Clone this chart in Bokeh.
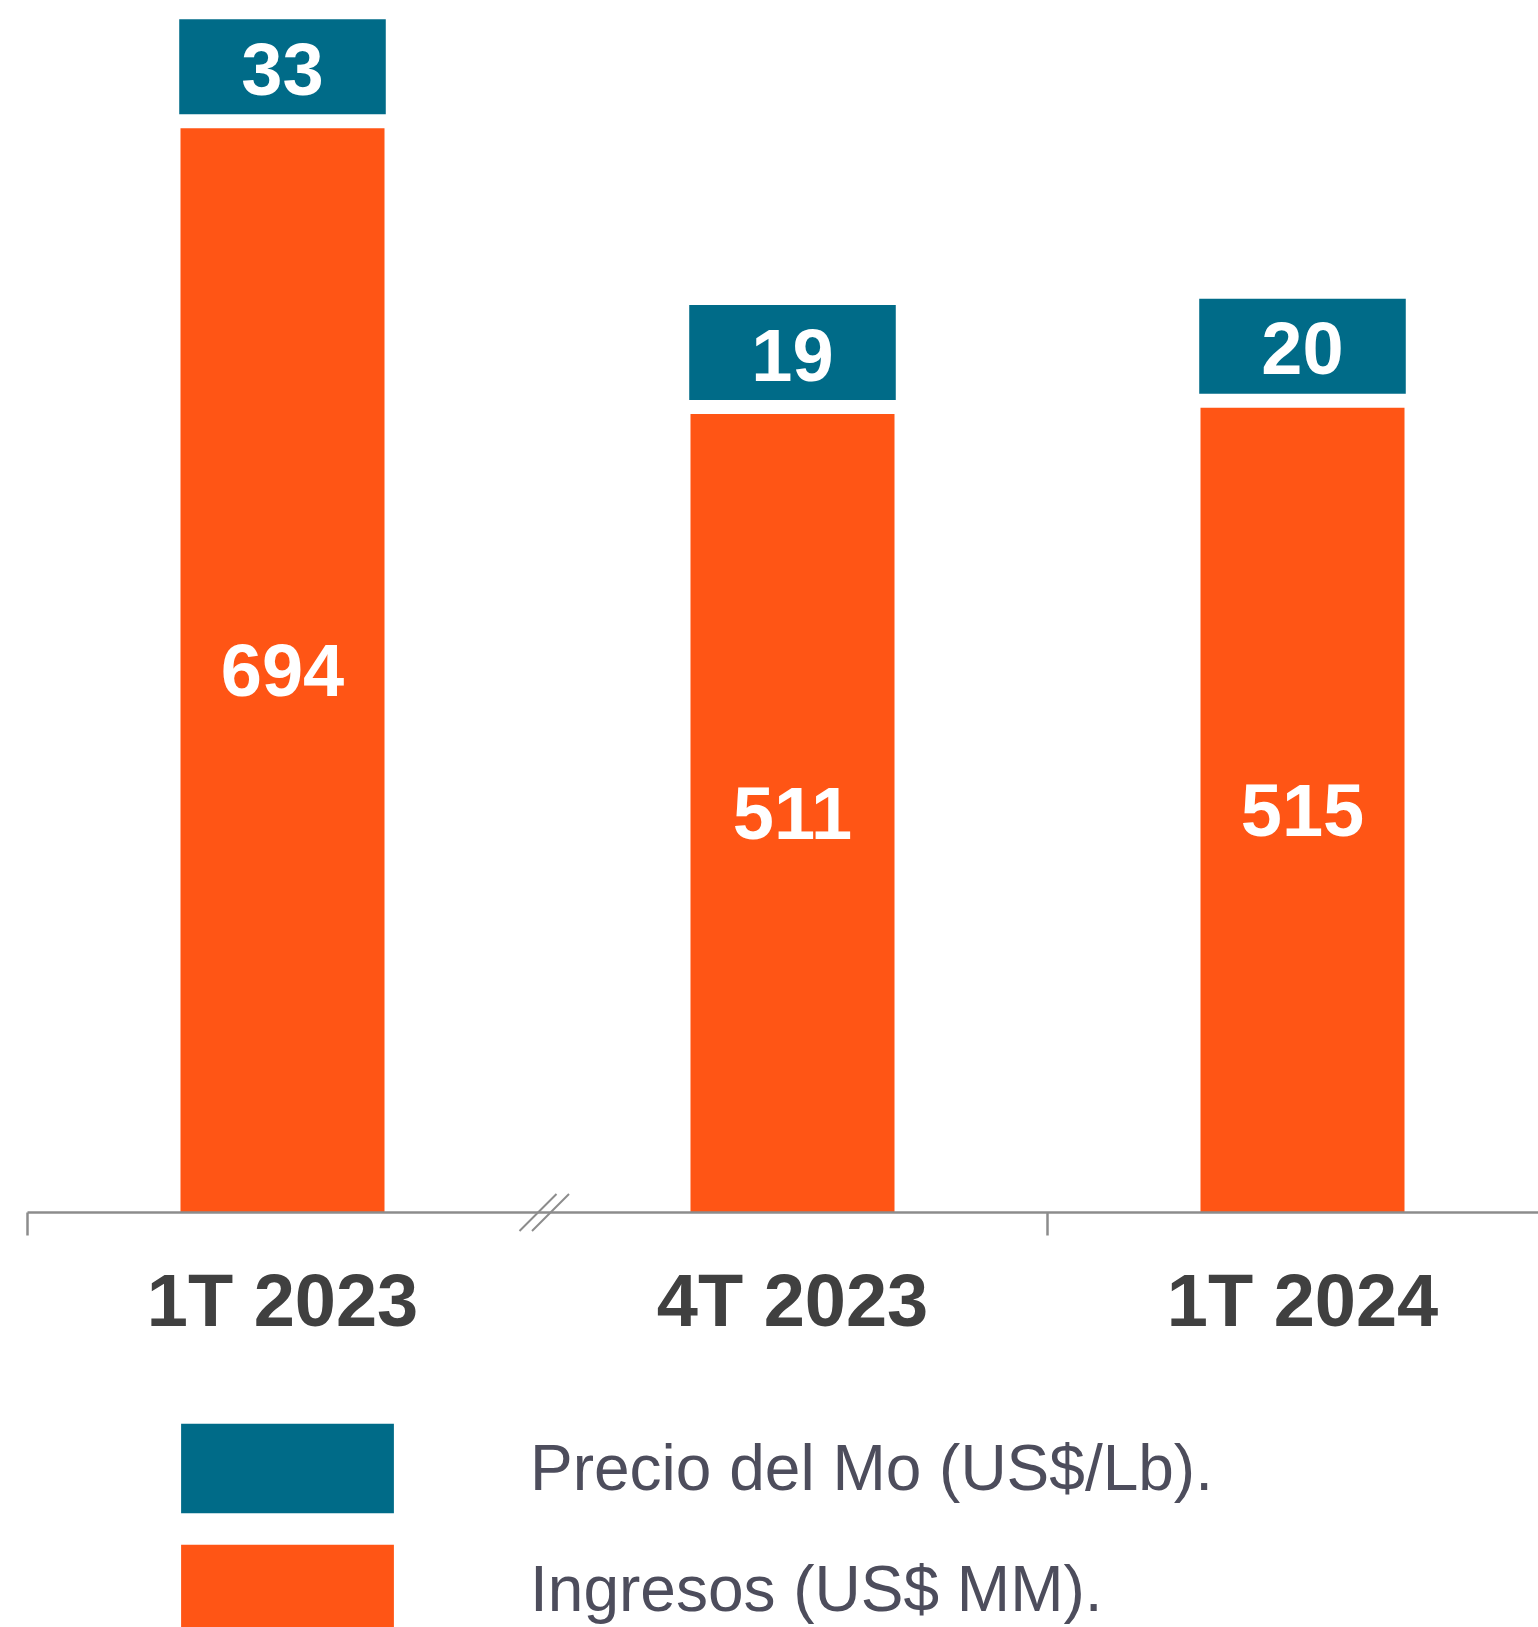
from bokeh.plotting import figure
from bokeh.models import Range1d, ColumnDataSource, Legend, LegendItem
from bokeh.embed import file_html
from bokeh.resources import INLINE
from bokeh.core.properties import value

# ---- data ----
categories = ["1T 2023", "4T 2023", "1T 2024"]
ingresos = [694, 511, 515]          # Ingresos (US$ MM)
precio_mo = [33, 19, 20]            # Precio del Mo (US$/Lb)
legend_labels = ["Precio del Mo (US$/Lb).", "Ingresos (US$ MM)."]

# ---- styling / layout constants ----
ORANGE = "#FF5515"
TEAL = "#006B88"
AXIS_GRAY = "#8C8C8C"
LABEL_DARK = "#404040"
LEGEND_TEXT = "#4D4D5C"
FONT_NAME = "Liberation Sans"
FONT = value(FONT_NAME)

W, H = 1538, 1627
PX_PER_CAT = 510.0
PX_PER_UNIT = 1.5625
AXIS_Y_PX = 1212.0
FIRST_CENTER_PX = 282.0

x_start = -FIRST_CENTER_PX / PX_PER_CAT
x_end = x_start + W / PX_PER_CAT
y_end = AXIS_Y_PX / PX_PER_UNIT
y_start = -(H - AXIS_Y_PX) / PX_PER_UNIT


def dy(px):
    return px / PX_PER_UNIT


def dx(px):
    return px / PX_PER_CAT


idx = list(range(len(categories)))
bar_w = 0.4
box_w = 0.405
gap = dy(14)
box_h = dy(95)

box_bottom = [v + gap for v in ingresos]
box_top = [b + box_h for b in box_bottom]

src = ColumnDataSource(dict(
    x=idx,
    cat=categories,
    ingresos=ingresos,
    ing_txt=[str(v) for v in ingresos],
    ing_mid=[v / 2 for v in ingresos],
    precio_txt=[str(v) for v in precio_mo],
    box_left=[i - box_w / 2 for i in idx],
    box_right=[i + box_w / 2 for i in idx],
    box_bottom=box_bottom,
    box_top=box_top,
    box_mid=[(b + t) / 2 - dy(2) for b, t in zip(box_bottom, box_top)],
    cat_y=[-dy(88)] * len(idx),
))

p = figure(width=W, height=H, output_backend="svg", toolbar_location=None,
           x_range=Range1d(x_start, x_end), y_range=Range1d(y_start, y_end),
           min_border=0, min_border_left=0, min_border_right=0,
           min_border_top=0, min_border_bottom=0)
p.axis.visible = False
p.grid.visible = False
p.outline_line_color = None
p.background_fill_color = "white"
p.border_fill_color = "white"

bars = p.vbar(x="x", width=bar_w, top="ingresos", bottom=0, source=src,
              fill_color=ORANGE, line_color=None)
boxes = p.quad(left="box_left", right="box_right", bottom="box_bottom", top="box_top",
               source=src, fill_color=TEAL, line_color=None)

p.text(x="x", y="ing_mid", text="ing_txt", source=src, text_font=FONT,
       text_font_style="bold", text_font_size="74px", text_color="white",
       text_align="center", text_baseline="middle")
p.text(x="x", y="box_mid", text="precio_txt", source=src, text_font=FONT,
       text_font_style="bold", text_font_size="74px", text_color="white",
       text_align="center", text_baseline="middle")
p.text(x="x", y="cat_y", text="cat", source=src, text_font=FONT,
       text_font_style="bold", text_font_size="74px", text_color=LABEL_DARK,
       text_align="center", text_baseline="middle")

# ---- category axis drawn as line + boundary ticks + break mark ----
left_bound = idx[0] - 0.5
p.segment(x0=[left_bound], y0=[0], x1=[x_end + 0.1], y1=[0],
          line_color=AXIS_GRAY, line_width=2.5)
tick_x = [idx[0] - 0.5, idx[2] - 0.5]
p.segment(x0=tick_x, y0=[0, 0], x1=tick_x, y1=[-dy(23), -dy(23)],
          line_color=AXIS_GRAY, line_width=2.5)
brk = idx[0] + 0.5
brk_c = [brk + dx(0.5), brk + dx(13)]
p.segment(x0=[c - dx(18.5) for c in brk_c], y0=[-dy(18.5)] * 2,
          x1=[c + dx(18.5) for c in brk_c], y1=[dy(18.5)] * 2,
          line_color=AXIS_GRAY, line_width=2)

# ---- legend ----
legend = Legend(items=[LegendItem(label=legend_labels[0], renderers=[boxes]),
                       LegendItem(label=legend_labels[1], renderers=[bars])],
                location=(154, -18), orientation="vertical",
                glyph_width=266, glyph_height=112, spacing=9,
                label_standoff=110, padding=0, margin=0,
                label_text_font=FONT_NAME, label_text_font_size="64px",
                label_text_color=LEGEND_TEXT,
                background_fill_alpha=0, border_line_alpha=0)
p.add_layout(legend, "center")

open("out.html", "w").write(file_html(p, INLINE))
